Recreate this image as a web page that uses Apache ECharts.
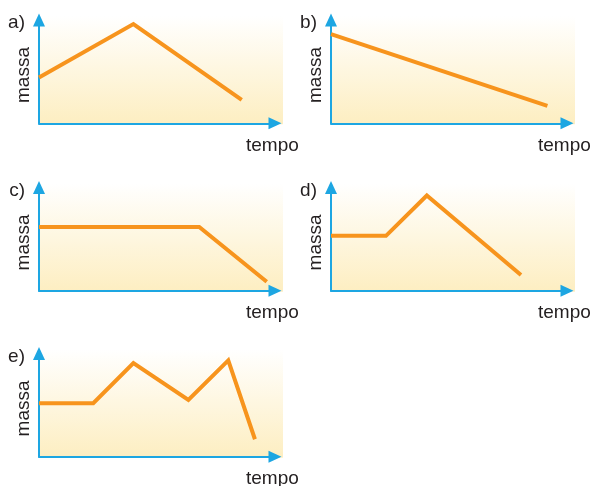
<!DOCTYPE html>
<html>
<head>
<meta charset="utf-8">
<script src="https://cdn.jsdelivr.net/npm/echarts@6/dist/echarts.min.js"></script>
<style>html,body{margin:0;padding:0;background:#fff}#c{width:594px;height:486px}</style>
</head>
<body>
<div id="c"></div>
<script>
// Panel labels and axis titles
const panelLabels = ['a)', 'b)', 'c)', 'd)', 'e)'];
const yTitle = 'massa';
const xTitle = 'tempo';

// Values (time 0-100 along x axis, mass 0-100 along y axis)
const timeA = [0, 40.0, 85.9];
const massA = [44.3, 96.1, 22.6];
const timeB = [0, 91.7];
const massB = [86.4, 16.8];
const timeC = [0, 67.9, 96.5];
const massC = [61.6, 61.6, 8.7];
const timeD = [0, 23.3, 40.6, 80.5];
const massD = [53.1, 53.1, 92.2, 15.2];
const timeE = [0, 23.0, 40.0, 63.3, 80.2, 91.5];
const massE = [51.8, 51.8, 90.7, 55.0, 93.2, 16.9];

const panelTimes = [timeA, timeB, timeC, timeD, timeE];
const panelMasses = [massA, massB, massC, massD, massE];

// Layout
const axisColor = '#1DA6E2';
const lineColor = '#F7941D';
const textColor = '#231F20';
const font = 'Liberation Sans, Arial, Helvetica, sans-serif';
const lefts = [39, 331, 39, 331, 39];
const bottoms = [123.3, 123.3, 290.7, 290.7, 456.7];
const gw = 236, gh = 103.3;

const grids = [], xAxes = [], yAxes = [], series = [], graphics = [];
panelLabels.forEach((lab, i) => {
  const left = lefts[i], bottom = bottoms[i], top = bottom - gh;
  grids.push({ left: left, top: top, width: gw, height: gh, containLabel: false });
  const axisLine = { show: true, onZero: false, symbol: ['none', 'triangle'], symbolSize: [12, 13],
    lineStyle: { color: axisColor, width: 2 } };
  xAxes.push({ type: 'value', gridIndex: i, min: 0, max: 100, axisLine: axisLine,
    axisTick: { show: false }, axisLabel: { show: false }, splitLine: { show: false } });
  yAxes.push({ type: 'value', gridIndex: i, min: 0, max: 100, axisLine: axisLine,
    axisTick: { show: false }, axisLabel: { show: false }, splitLine: { show: false } });
  const t = panelTimes[i], m = panelMasses[i];
  series.push({ type: 'line', xAxisIndex: i, yAxisIndex: i, data: t.map((v, k) => [v, m[k]]),
    symbol: 'none', lineStyle: { color: lineColor, width: 4, cap: 'butt', join: 'miter' }, z: 3 });
  // background gradient
  graphics.push({ type: 'rect', z: -10, shape: { x: left, y: top - 4, width: 244, height: gh + 5 },
    style: { fill: new echarts.graphic.LinearGradient(0, 0, 0, 1, [
      { offset: 0, color: '#FFFFFF' }, { offset: 1, color: '#FDEEC1' }]) } });
  // panel letter
  graphics.push({ type: 'text', x: left - 14, y: top + 3, style: { text: lab, fill: textColor,
    font: '19px ' + font, align: 'right', verticalAlign: 'middle' } });
  // y title
  graphics.push({ type: 'text', x: left - 15.5, y: top + 55, rotation: Math.PI / 2, style: { text: yTitle,
    fill: textColor, font: '19px ' + font, align: 'center', verticalAlign: 'middle' } });
  // x title
  graphics.push({ type: 'text', x: left + 207, y: bottom + 22.5, style: { text: xTitle,
    fill: textColor, font: '19px ' + font, align: 'left', verticalAlign: 'middle' } });
});

const chart = echarts.init(document.getElementById('c'), null, { renderer: 'canvas' });
chart.setOption({
  animation: false,
  backgroundColor: '#fff',
  grid: grids, xAxis: xAxes, yAxis: yAxes, series: series, graphic: graphics
});
</script>
</body>
</html>
